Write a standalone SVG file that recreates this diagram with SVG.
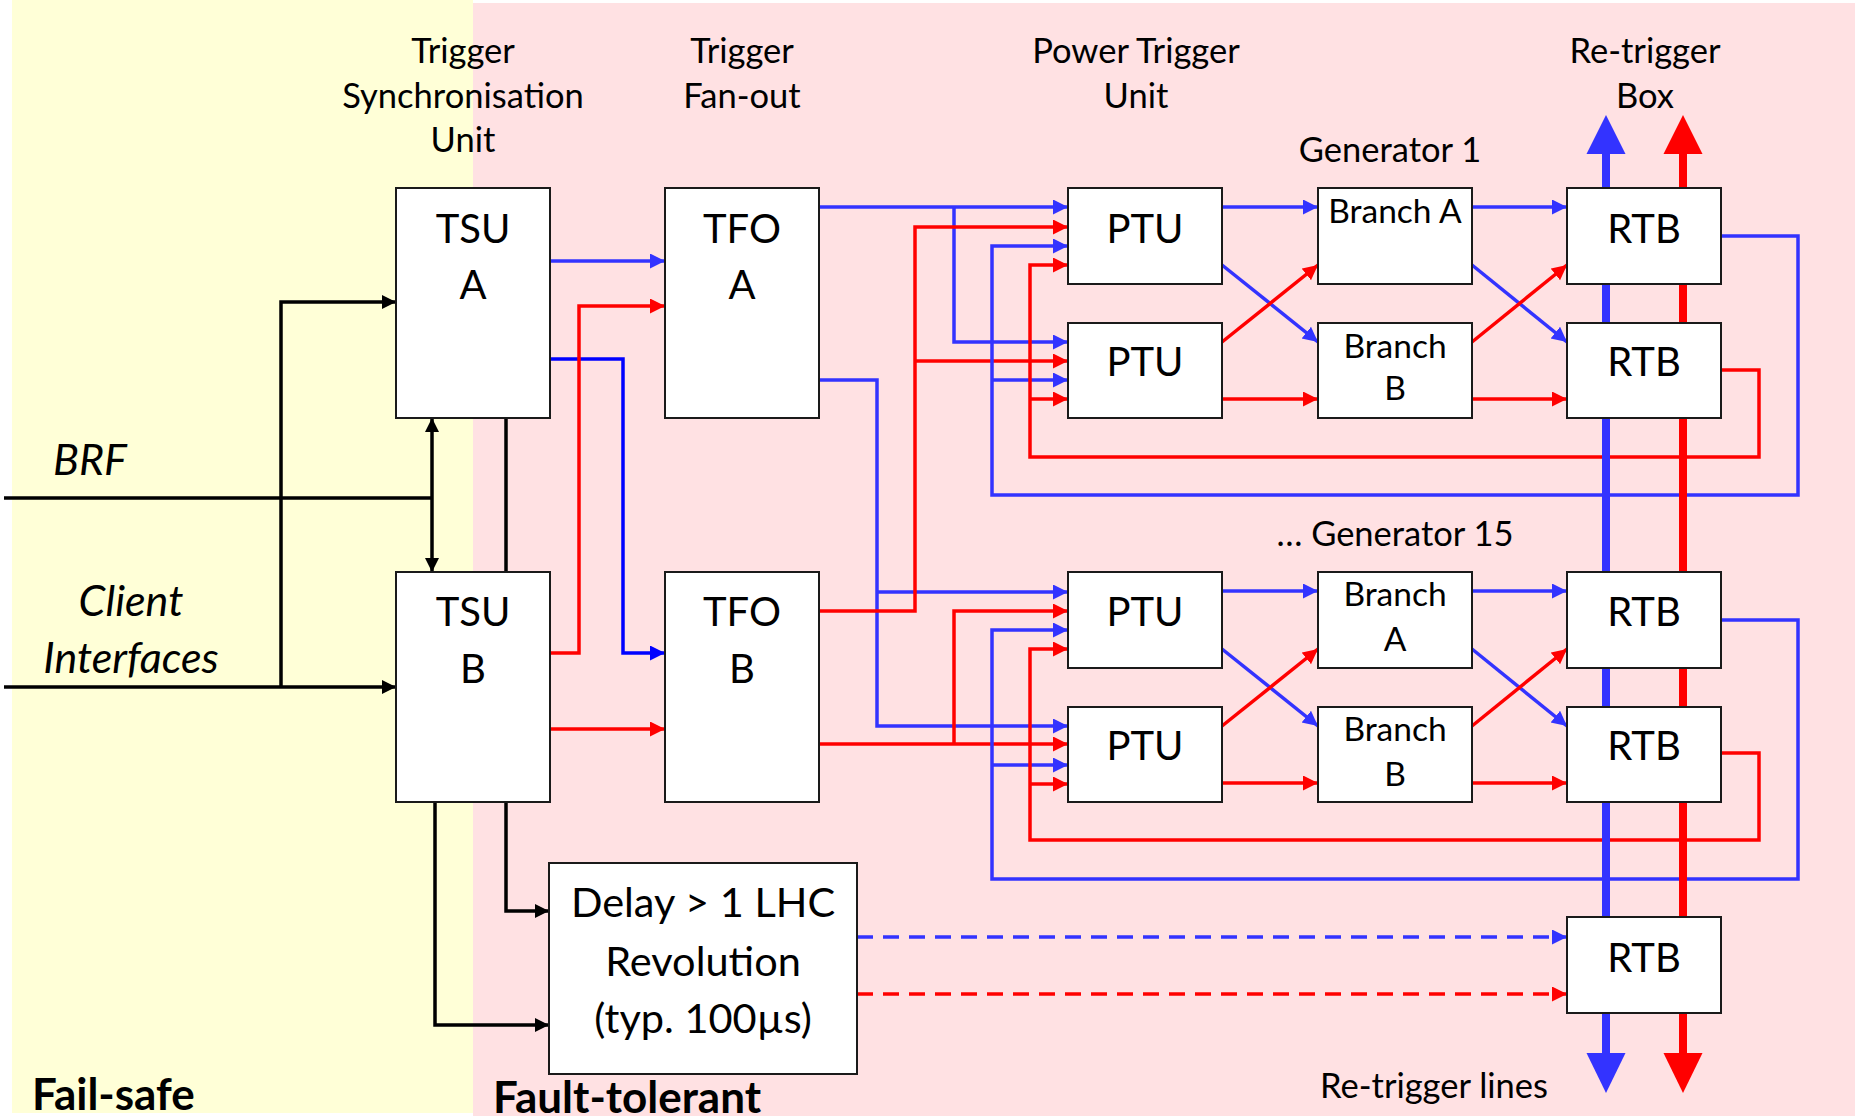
<svg xmlns="http://www.w3.org/2000/svg" width="1860" height="1120" viewBox="0 0 1860 1120">
<style>
.box{fill:#fff;stroke:#1a1a1a;stroke-width:2}
.t{font-family:Lato,"Liberation Sans",sans-serif;fill:#000;text-anchor:middle}
.ti{font-size:34.5px}
.lb{font-size:40px}
.br{font-size:33.5px}
.dl{font-size:41.5px}
.it{font-style:italic;font-size:43px}
.bd{font-weight:bold;font-size:44px;text-anchor:start}
.c{fill:none;stroke-width:3.5}
.b{stroke:#3333FF}
.bb{stroke:#0000FF}
.r{stroke:#FF0000}
.k{stroke:#000}
.ab{marker-end:url(#mb)}
.ar{marker-end:url(#mr)}
.ak{marker-end:url(#mk)}
.dash{stroke-dasharray:16 10}
</style>
<defs>
<marker id="mb" markerUnits="userSpaceOnUse" markerWidth="16" markerHeight="16" refX="15" refY="7.5" orient="auto"><path d="M0,0 L15,7.5 L0,15 z" fill="#3333FF"/></marker>
<marker id="mbb" markerUnits="userSpaceOnUse" markerWidth="16" markerHeight="16" refX="15" refY="7.5" orient="auto"><path d="M0,0 L15,7.5 L0,15 z" fill="#0000FF"/></marker>
<marker id="mr" markerUnits="userSpaceOnUse" markerWidth="16" markerHeight="16" refX="15" refY="7.5" orient="auto"><path d="M0,0 L15,7.5 L0,15 z" fill="#FF0000"/></marker>
<marker id="mk" markerUnits="userSpaceOnUse" markerWidth="16" markerHeight="16" refX="14" refY="7" orient="auto"><path d="M0,0 L14,7 L0,14 z" fill="#000"/></marker>
<marker id="mks" markerUnits="userSpaceOnUse" markerWidth="16" markerHeight="16" refX="14" refY="7" orient="auto-start-reverse"><path d="M0,0 L14,7 L0,14 z" fill="#000"/></marker>
</defs>

<rect x="12" y="0" width="461" height="1113" fill="#FFFFD7"/>
<rect x="473" y="3" width="1382" height="1113" fill="#FFE1E3"/>

<g id="labels">
<text class="t ti" x="463" y="63">Trigger</text>
<text class="t ti" x="463" y="108">Synchronisation</text>
<text class="t ti" x="463" y="152">Unit</text>
<text class="t ti" x="742" y="63">Trigger</text>
<text class="t ti" x="742" y="108">Fan-out</text>
<text class="t ti" x="1136" y="63">Power Trigger</text>
<text class="t ti" x="1136" y="108">Unit</text>
<text class="t ti" x="1645" y="63">Re-trigger</text>
<text class="t ti" x="1645" y="108">Box</text>
<text class="t ti" x="1390" y="162">Generator 1</text>
<text class="t ti" x="1395" y="546">… Generator 15</text>
<text class="t it" x="90" y="475">BRF</text>
<text class="t it" x="131" y="616">Client</text>
<text class="t it" x="131" y="673">Interfaces</text>
<text class="t bd" x="32" y="1110">Fail-safe</text>
<text class="t bd" x="493" y="1113">Fault-tolerant</text>
<text class="t ti" x="1434" y="1098">Re-trigger lines</text>
</g>

<g id="connectors">
<path class="c k" d="M4,498 H432"/>
<path class="c k ak" d="M4,687 H396"/>
<path class="c k ak" d="M281,687 V302 H396"/>
<path class="c k" d="M432,418 V572" marker-start="url(#mks)" marker-end="url(#mk)"/>
<path class="c k ak" d="M506,418 V911 H549"/>
<path class="c k ak" d="M435,802 V1025 H549"/>

<path class="c b ab" d="M550,261 H665"/>
<path class="c bb" d="M550,359 H623 V653 H665" marker-end="url(#mbb)"/>
<path class="c r ar" d="M550,653 H579 V306 H665"/>
<path class="c r ar" d="M550,729 H665"/>

<path class="c b ab" d="M819,207 H1068"/>
<path class="c b ab" d="M954,207 V342 H1068"/>
<path class="c b ab" d="M819,380 H877 V726 H1068"/>
<path class="c b ab" d="M877,592 H1068"/>
<path class="c r ar" d="M819,611 H915 V227 H1068"/>
<path class="c r ar" d="M915,361 H1068"/>
<path class="c r ar" d="M819,744 H1068"/>
<path class="c r ar" d="M954,744 V611 H1068"/>

<path class="c b ab" d="M1721,236 H1798 V495 H992 V246 H1068"/>
<path class="c b ab" d="M992,380 H1068"/>
<path class="c b ab" d="M1721,620 H1798 V879 H992 V630 H1068"/>
<path class="c b ab" d="M992,765 H1068"/>
<path class="c r ar" d="M1721,370 H1759 V457 H1030 V265 H1068"/>
<path class="c r ar" d="M1030,399 H1068"/>
<path class="c r ar" d="M1721,753 H1759 V840 H1030 V649 H1068"/>
<path class="c r ar" d="M1030,784 H1068"/>

<path class="c b ab" d="M1222,207 H1318"/>
<path class="c b ab" d="M1222,265 L1318,342"/>
<path class="c r ar" d="M1222,342 L1318,265"/>
<path class="c r ar" d="M1222,399 H1318"/>
<path class="c b ab" d="M1472,207 H1567"/>
<path class="c b ab" d="M1472,265 L1567,342"/>
<path class="c r ar" d="M1472,342 L1567,265"/>
<path class="c r ar" d="M1472,399 H1567"/>

<path class="c b ab" d="M1222,591 H1318"/>
<path class="c b ab" d="M1222,649 L1318,726"/>
<path class="c r ar" d="M1222,726 L1318,649"/>
<path class="c r ar" d="M1222,783 H1318"/>
<path class="c b ab" d="M1472,591 H1567"/>
<path class="c b ab" d="M1472,649 L1567,726"/>
<path class="c r ar" d="M1472,726 L1567,649"/>
<path class="c r ar" d="M1472,783 H1567"/>

<path class="c b ab dash" d="M857,937 H1567"/>
<path class="c r ar dash" d="M857,994 H1567"/>

<path d="M1606,150 V1058" stroke="#3333FF" stroke-width="8" fill="none"/>
<path d="M1683,150 V1058" stroke="#FF0000" stroke-width="8" fill="none"/>
<polygon points="1606,115 1625.5,154 1586.5,154" fill="#3333FF"/>
<polygon points="1683,115 1702.5,154 1663.5,154" fill="#FF0000"/>
<polygon points="1606,1093 1625.5,1053 1586.5,1053" fill="#3333FF"/>
<polygon points="1683,1093 1702.5,1053 1663.5,1053" fill="#FF0000"/>
</g>

<g id="tsu-a"><rect class="box" x="396" y="188" width="154" height="230"/><text class="t lb" x="473" y="243">TSU</text><text class="t lb" x="473" y="299">A</text></g>
<g id="tsu-b"><rect class="box" x="396" y="572" width="154" height="230"/><text class="t lb" x="473" y="626">TSU</text><text class="t lb" x="473" y="683">B</text></g>
<g id="tfo-a"><rect class="box" x="665" y="188" width="154" height="230"/><text class="t lb" x="742" y="243">TFO</text><text class="t lb" x="742" y="299">A</text></g>
<g id="tfo-b"><rect class="box" x="665" y="572" width="154" height="230"/><text class="t lb" x="742" y="626">TFO</text><text class="t lb" x="742" y="683">B</text></g>

<g id="ptu-1"><rect class="box" x="1068" y="188" width="154" height="96"/><text class="t lb" x="1145" y="243">PTU</text></g>
<g id="ptu-2"><rect class="box" x="1068" y="323" width="154" height="95"/><text class="t lb" x="1145" y="376">PTU</text></g>
<g id="ptu-3"><rect class="box" x="1068" y="572" width="154" height="96"/><text class="t lb" x="1145" y="626">PTU</text></g>
<g id="ptu-4"><rect class="box" x="1068" y="707" width="154" height="95"/><text class="t lb" x="1145" y="760">PTU</text></g>

<g id="branch-a-1"><rect class="box" x="1318" y="188" width="154" height="96"/><text class="t br" x="1395" y="223">Branch A</text></g>
<g id="branch-b-1"><rect class="box" x="1318" y="323" width="154" height="95"/><text class="t br" x="1395" y="358">Branch</text><text class="t br" x="1395" y="400">B</text></g>
<g id="branch-a-15"><rect class="box" x="1318" y="572" width="154" height="96"/><text class="t br" x="1395" y="606">Branch</text><text class="t br" x="1395" y="651">A</text></g>
<g id="branch-b-15"><rect class="box" x="1318" y="707" width="154" height="95"/><text class="t br" x="1395" y="741">Branch</text><text class="t br" x="1395" y="786">B</text></g>

<g id="rtb-1"><rect class="box" x="1567" y="188" width="154" height="96"/><text class="t lb" x="1644" y="243">RTB</text></g>
<g id="rtb-2"><rect class="box" x="1567" y="323" width="154" height="95"/><text class="t lb" x="1644" y="376">RTB</text></g>
<g id="rtb-3"><rect class="box" x="1567" y="572" width="154" height="96"/><text class="t lb" x="1644" y="626">RTB</text></g>
<g id="rtb-4"><rect class="box" x="1567" y="707" width="154" height="95"/><text class="t lb" x="1644" y="760">RTB</text></g>
<g id="rtb-5"><rect class="box" x="1567" y="917" width="154" height="96"/><text class="t lb" x="1644" y="972">RTB</text></g>

<g id="delay"><rect class="box" x="549" y="863" width="308" height="211"/><text class="t dl" x="703" y="917">Delay &gt; 1 LHC</text><text class="t dl" x="703" y="976">Revolution</text><text class="t dl" x="703" y="1033">(typ. 100µs)</text></g>
</svg>
